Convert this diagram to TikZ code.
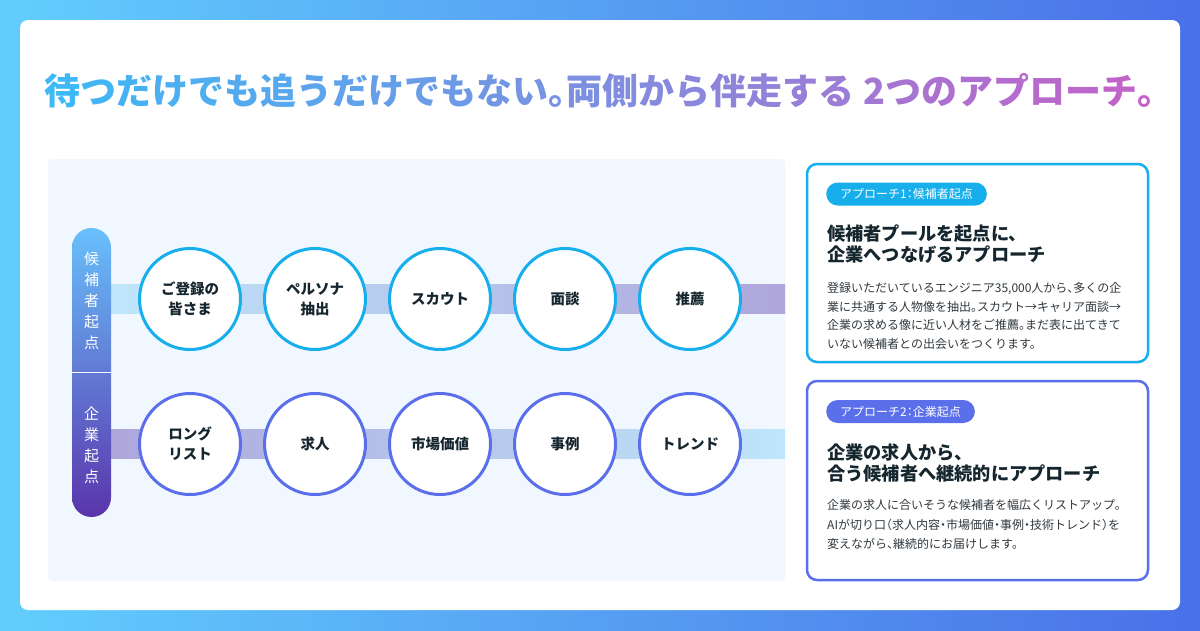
\documentclass[tikz,border=0pt]{standalone}
\usepackage{fontspec}
\setmainfont{Noto Sans CJK JP}[RawFeature=+halt]
\definecolor{bgL}{RGB}{98,206,253}
\definecolor{bgM}{RGB}{62,188,250}
\definecolor{bgR}{RGB}{74,112,232}
\definecolor{tA}{RGB}{62,184,246}
\definecolor{tB}{RGB}{196,98,200}
\definecolor{panelc}{RGB}{240,247,254}
\definecolor{cyanS}{RGB}{22,174,235}
\definecolor{indS}{RGB}{90,111,233}
\definecolor{ink}{RGB}{22,38,46}
\definecolor{bodyc}{RGB}{48,56,62}
\definecolor{bandBlue}{RGB}{190,230,251}
\definecolor{bandPurp}{RGB}{174,166,219}
\definecolor{barTop}{RGB}{104,192,251}
\definecolor{barMid}{RGB}{94,132,238}
\definecolor{barBot}{RGB}{90,52,172}
\tikzset{
  stepc/.style={circle, fill=white, line width=3pt, minimum size=101pt, inner sep=0pt,
    align=center, font=\fontsize{14.5}{20}\selectfont\bfseries, text=ink},
  topc/.style={stepc, draw=cyanS},
  botc/.style={stepc, draw=indS},
  badge/.style={rounded corners=11.5pt, minimum height=23pt, inner xsep=14pt, inner ysep=0pt,
    text=white, font=\fontsize{12}{12}\selectfont, anchor=west},
  head/.style={anchor=base west, inner sep=0pt, font=\fontsize{18.2}{21}\selectfont\bfseries, text=ink},
  bodyt/.style={anchor=base west, inner sep=0pt, font=\fontsize{12}{18}\selectfont, text=bodyc},
  card/.style={line width=2.5pt, rounded corners=10pt, fill=white},
  vlabel/.style={text=white, align=center, inner sep=0pt, font=\fontsize{15}{21}\selectfont},
}
\begin{document}
\begin{tikzpicture}[x=1pt,y=-1pt]
\useasboundingbox (0,0) rectangle (1200,630);
% background
\shade[left color=bgL, middle color=bgM, right color=bgR] (0,0) rectangle (1200,630);
\fill[white, rounded corners=8pt] (20,20) rectangle (1180,610);
% title
\node[inner sep=0pt] (title) at (600,91) {\fontsize{36}{42}\selectfont\bfseries
  \foreach \c [count=\i] in {待,つ,だ,け,で,も,追,う,だ,け,で,も,な,い,。,両,側,か,ら,伴,走,す,る,{\hspace{0.25em}},2,つ,の,ア,プ,ロ,ー,チ,。}{%
    \pgfmathtruncatemacro\p{100-100*(\i-1)/32}\textcolor{tA!\p!tB}{\c}}};
% left panel
\fill[panelc, rounded corners=4pt] (48,159) rectangle (785,581);
% bands
\coordinate (tbS) at (111,284.5);
\coordinate (tbE) at (785,313.5);
\coordinate (bbS) at (111,429.5);
\coordinate (bbE) at (785,458.5);
\shade[left color=bandBlue, right color=bandPurp] (tbS) rectangle (tbE);
\shade[left color=bandPurp, right color=bandBlue] (bbS) rectangle (bbE);
% vertical bar
\shade[rounded corners=19.5pt, top color=barTop, middle color=barMid, bottom color=barBot] (72,228) rectangle (111,517);
\draw[white, line width=0.8pt] (72,372) -- (111,372);
\node[vlabel] (lab1) at (91.5,300.5) {候\\補\\者\\起\\点};
\node[vlabel] (lab2) at (91.5,445) {企\\業\\起\\点};
% top row
\node[topc] (t1) at (190,299) {ご登録の\\皆さま};
\node[topc] (t2) at (315,299) {ペルソナ\\抽出};
\node[topc] (t3) at (440,299) {スカウト};
\node[topc] (t4) at (565,299) {面談};
\node[topc] (t5) at (690,299) {推薦};
% bottom row
\node[botc] (b1) at (190,444) {ロング\\リスト};
\node[botc] (b2) at (315,444) {求人};
\node[botc] (b3) at (440,444) {市場価値};
\node[botc] (b4) at (565,444) {事例};
\node[botc] (b5) at (690,444) {トレンド};
% card 1
\draw[card, draw=cyanS] (807,164) rectangle (1148,362);
\node[badge, fill=cyanS] (bd1) at (826,194) {アプローチ1：候補者起点};
\node[head] (c1h1) at (827,240) {候補者プールを起点に、};
\node[head] (c1h2) at (827,261) {企業へつなげるアプローチ};
\node[bodyt] (c1b1) at (827,292.5) {登録いただいているエンジニア35,000人から、多くの企};
\node[bodyt] (c1b2) at (827,311) {業に共通する人物像を抽出。スカウト→キャリア面談→};
\node[bodyt] (c1b3) at (827,329.5) {企業の求める像に近い人材をご推薦。まだ表に出てきて};
\node[bodyt] (c1b4) at (827,348) {いない候補者との出会いをつくります。};
% card 2
\draw[card, draw=indS] (807,381) rectangle (1148,580);
\node[badge, fill=indS] (bd2) at (826,411.5) {アプローチ2：企業起点};
\node[head] (c2h1) at (827,459) {企業の求人から、};
\node[head] (c2h2) at (827,480) {合う候補者へ継続的にアプローチ};
\node[bodyt] (c2b1) at (827,509.5) {企業の求人に合いそうな候補者を幅広くリストアップ。};
\node[bodyt] (c2b2) at (827,529) {AIが切り口（求人内容・市場価値・事例・技術トレンド）を};
\node[bodyt] (c2b3) at (827,548) {変えながら、継続的にお届けします。};
\end{tikzpicture}
\end{document}
